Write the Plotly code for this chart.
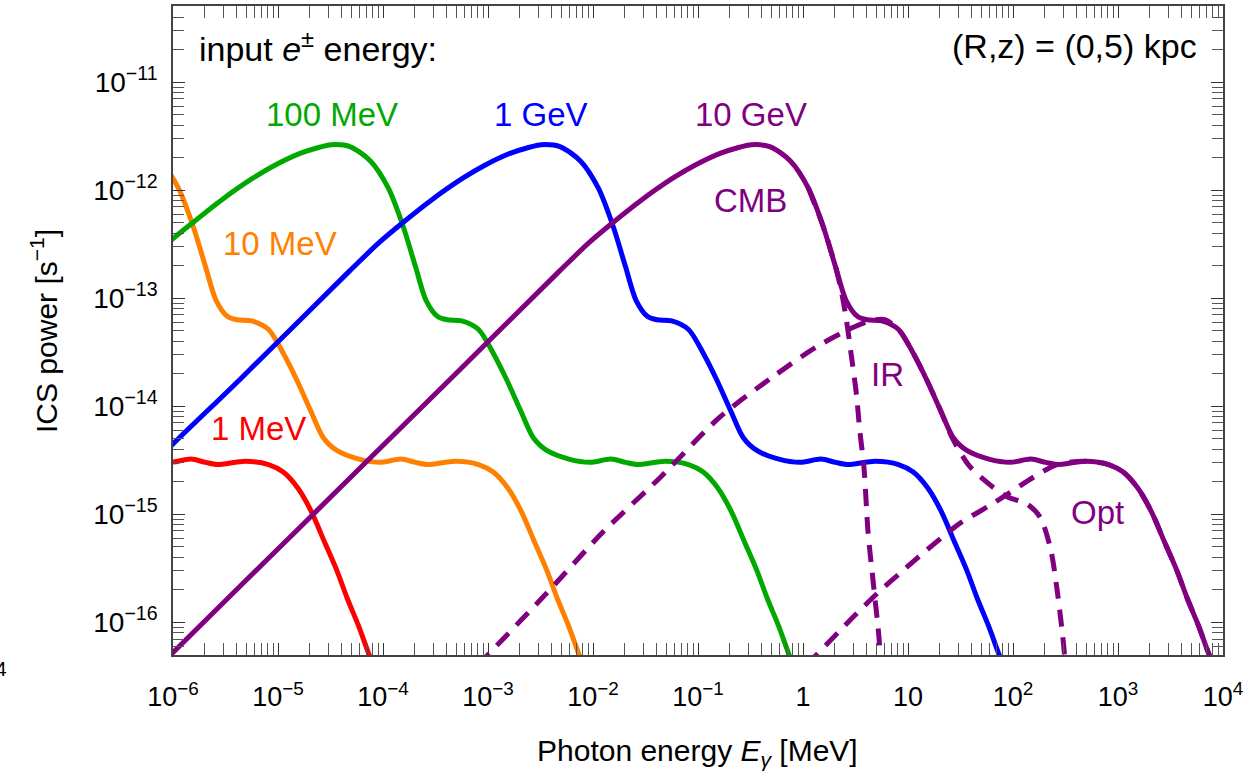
import numpy as np
import plotly.graph_objects as go

# ---- data: log10(E_gamma / MeV), log10(ICS power / s^-1) ----
e1MeV_logE = [-6.23, -6.03, -5.83, -5.69, -5.58, -5.31, -5.09, -4.95, -4.81, -4.68, -4.56,
              -4.44, -4.34, -4.23, -4.14, -4.04]
e1MeV_logP = [-14.49, -14.52, -14.49, -14.52, -14.54, -14.51, -14.54, -14.61, -14.76, -14.98,
              -15.25, -15.52, -15.78, -16.04, -16.28, -16.53]

e10MeV_logE = [-6.31, -6.12, -5.95, -5.81, -5.69, -5.59, -5.48, -5.39, -5.25, -5.09, -4.95,
               -4.82, -4.69, -4.57, -4.44, -4.23, -4.03, -3.83, -3.69, -3.58, -3.31, -3.09,
               -2.95, -2.81, -2.68, -2.56, -2.44, -2.34, -2.23, -2.14, -2.04]
e10MeV_logP = [-11.60, -11.73, -11.98, -12.33, -12.71, -13.02, -13.17, -13.20, -13.21, -13.29,
               -13.51, -13.76, -14.04, -14.29, -14.41, -14.49, -14.52, -14.49, -14.52, -14.54,
               -14.51, -14.54, -14.61, -14.76, -14.98, -15.25, -15.52, -15.78, -16.04, -16.28,
               -16.53]

e100MeV_logE = [-6.20, -6.00, -5.81, -5.55, -5.24, -5.03, -4.79, -4.63, -4.49, -4.31, -4.12,
                -3.95, -3.81, -3.69, -3.59, -3.48, -3.39, -3.25, -3.09, -2.95, -2.82, -2.69,
                -2.57, -2.44, -2.23, -2.03, -1.83, -1.69, -1.58, -1.31, -1.09, -0.95, -0.81,
                -0.68, -0.56, -0.44, -0.34, -0.23, -0.14, -0.04]
e100MeV_logP = [-12.64, -12.45, -12.30, -12.10, -11.89, -11.77, -11.66, -11.61, -11.58, -11.60,
                -11.73, -11.98, -12.33, -12.71, -13.02, -13.17, -13.20, -13.21, -13.29, -13.51,
                -13.76, -14.04, -14.29, -14.41, -14.49, -14.52, -14.49, -14.52, -14.54, -14.51,
                -14.54, -14.61, -14.76, -14.98, -15.25, -15.52, -15.78, -16.04, -16.28, -16.53]

e1GeV_logE = [-6.20, -6.00, -5.36, -4.32, -4.03, -3.81, -3.55, -3.24, -3.03, -2.79, -2.63,
              -2.49, -2.31, -2.12, -1.95, -1.81, -1.69, -1.59, -1.48, -1.39, -1.25, -1.09,
              -0.95, -0.82, -0.69, -0.57, -0.44, -0.23, -0.03, 0.17, 0.31, 0.42, 0.69, 0.91,
              1.05, 1.19, 1.32, 1.44, 1.56, 1.66, 1.77, 1.86, 1.96]
e1GeV_logP = [-14.55, -14.35, -13.75, -12.75, -12.48, -12.30, -12.10, -11.89, -11.77, -11.66,
              -11.61, -11.58, -11.60, -11.73, -11.98, -12.33, -12.71, -13.02, -13.17, -13.20,
              -13.21, -13.29, -13.51, -13.76, -14.04, -14.29, -14.41, -14.49, -14.52, -14.49,
              -14.52, -14.54, -14.51, -14.54, -14.61, -14.76, -14.98, -15.25, -15.52, -15.78,
              -16.04, -16.28, -16.53]

e10GeV_logE = [-6.20, -6.00, -4.79, -3.36, -2.32, -2.03, -1.81, -1.55, -1.24, -1.03, -0.79,
               -0.63, -0.49, -0.31, -0.12, 0.05, 0.19, 0.31, 0.41, 0.52, 0.61, 0.75, 0.91,
               1.05, 1.18, 1.31, 1.43, 1.56, 1.77, 1.97, 2.17, 2.31, 2.42, 2.69, 2.91, 3.05,
               3.19, 3.32, 3.44, 3.56, 3.66, 3.77, 3.86, 3.96]
e10GeV_logP = [-16.48, -16.28, -15.12, -13.75, -12.75, -12.48, -12.30, -12.10, -11.89, -11.77,
               -11.66, -11.61, -11.58, -11.60, -11.73, -11.98, -12.33, -12.71, -13.02, -13.17,
               -13.20, -13.21, -13.29, -13.51, -13.76, -14.04, -14.29, -14.41, -14.49, -14.52,
               -14.49, -14.52, -14.54, -14.51, -14.54, -14.61, -14.76, -14.98, -15.25, -15.52,
               -15.78, -16.04, -16.28, -16.53]

cmb_logE = [0.05, 0.19, 0.31, 0.36, 0.41, 0.46, 0.51, 0.54, 0.58, 0.62, 0.67, 0.72, 0.735,
            0.755]
cmb_logP = [-11.98, -12.33, -12.71, -12.91, -13.18, -13.53, -13.90, -14.22, -14.56, -15.17,
            -15.64, -16.10, -16.30, -16.63]

ir_logE = [-3.10, -3.00, -2.44, -1.91, -1.36, -0.79, -0.29, 0.13, 0.48, 0.64, 0.78, 0.91,
           1.05, 1.18, 1.31, 1.43, 1.59, 1.81, 1.95, 2.14, 2.26, 2.36, 2.42, 2.47, 2.49, 2.50]
ir_logP = [-16.40, -16.30, -15.73, -15.17, -14.66, -14.10, -13.73, -13.45, -13.27, -13.21,
           -13.20, -13.29, -13.51, -13.76, -14.04, -14.31, -14.56, -14.75, -14.84, -14.91,
           -15.03, -15.33, -15.70, -16.10, -16.30, -16.63]

opt_logE = [0.03, 0.13, 0.48, 0.71, 0.93, 1.18, 1.50, 1.76, 1.97, 2.19, 2.42, 2.69, 2.91,
            3.05, 3.19, 3.32, 3.44, 3.56, 3.66, 3.77, 3.86, 3.96]
opt_logP = [-16.40, -16.30, -15.95, -15.73, -15.54, -15.33, -15.08, -14.93, -14.80, -14.66,
            -14.54, -14.51, -14.54, -14.61, -14.76, -14.98, -15.25, -15.52, -15.78, -16.04,
            -16.28, -16.53]

x_tick_exp = [-6, -5, -4, -3, -2, -1, 0, 1, 2, 3, 4]
x_tick_text = ["10<sup>−6</sup>", "10<sup>−5</sup>", "10<sup>−4</sup>", "10<sup>−3</sup>",
               "10<sup>−2</sup>", "10<sup>−1</sup>", "1", "10", "10<sup>2</sup>",
               "10<sup>3</sup>", "10<sup>4</sup>"]
y_tick_exp = [-16, -15, -14, -13, -12, -11]
y_tick_text = ["10<sup>−16</sup>", "10<sup>−15</sup>", "10<sup>−14</sup>", "10<sup>−13</sup>",
               "10<sup>−12</sup>", "10<sup>−11</sup>"]

GREEN = "rgb(0,168,0)"
ORANGE = "rgb(255,128,0)"
BLUE = "rgb(0,0,255)"
RED = "rgb(255,0,0)"
PURPLE = "rgb(128,0,128)"
FONT = "Liberation Sans, Arial, sans-serif"

fig = go.Figure()


def add_curve(lx, ly, color, dash="solid"):
    fig.add_trace(go.Scatter(
        x=np.power(10.0, lx), y=np.power(10.0, ly), mode="lines",
        line=dict(color=color, width=5, dash=dash, shape="spline", smoothing=0.8),
        hoverinfo="skip", showlegend=False))


add_curve(e1MeV_logE, e1MeV_logP, RED)
add_curve(e10MeV_logE, e10MeV_logP, ORANGE)
add_curve(e100MeV_logE, e100MeV_logP, GREEN)
add_curve(e1GeV_logE, e1GeV_logP, BLUE)
add_curve(cmb_logE, cmb_logP, PURPLE, "17px,11px")
add_curve(ir_logE, ir_logP, PURPLE, "17px,11px")
add_curve(opt_logE, opt_logP, PURPLE, "17px,11px")
add_curve(e10GeV_logE, e10GeV_logP, PURPLE)

# layout geometry (pixels)
W, H = 1260, 771
L, R, T, B = 173, 37, 6, 116
PW, PH = W - L - R, H - T - B


def px(xp):
    return (xp - L) / PW


def py(yp):
    return 1 - (yp - T) / PH


labels = [
    ("input <i>e</i><sup>±</sup> energy:", 197, 46, "left", "black", 34),
    ("(R,z) = (0,5) kpc", 1199, 46, "right", "black", 34),
    ("100 MeV", 332, 115, "center", GREEN, 33),
    ("1 GeV", 541, 115, "center", BLUE, 33),
    ("10 GeV", 751, 115, "center", PURPLE, 33),
    ("10 MeV", 280, 244, "center", ORANGE, 33),
    ("1 MeV", 258, 428, "center", RED, 33),
    ("CMB", 750, 201, "center", PURPLE, 33),
    ("IR", 887, 375, "center", PURPLE, 33),
    ("Opt", 1097, 512, "center", PURPLE, 33),
]
for text, xp, yp, anchor, col, fs in labels:
    fig.add_annotation(text=text, x=px(xp), y=py(yp), xref="paper", yref="paper",
                       xanchor=anchor, yanchor="middle", showarrow=False,
                       font=dict(family=FONT, size=fs, color=col))

# axis titles
fig.add_annotation(text="Photon energy <i>E</i><sub><i>γ</i></sub> [MeV]", x=px(697), y=py(752),
                   xref="paper", yref="paper", xanchor="center", yanchor="middle",
                   showarrow=False, font=dict(family=FONT, size=30, color="black"))
fig.add_annotation(text="ICS power [s<sup>−1</sup>]", x=px(44), y=py(331), textangle=-90,
                   xref="paper", yref="paper", xanchor="center", yanchor="middle",
                   showarrow=False, font=dict(family=FONT, size=30, color="black"))
# clipped label fragment at the far left edge
fig.add_annotation(text="4", x=px(9), y=py(668), xref="paper", yref="paper",
                   xanchor="right", yanchor="middle", showarrow=False,
                   font=dict(family=FONT, size=21, color="black"))

x_minor = [m * 10.0 ** k for k in range(-6, 4) for m in range(2, 10)]
y_minor = [m * 10.0 ** k for k in range(-17, -10) for m in range(2, 10)]

axis_common = dict(type="log", showgrid=False, zeroline=False, showline=True,
                   linecolor="#444", linewidth=1.5, mirror="ticks", ticks="inside",
                   ticklen=12, tickwidth=1, tickcolor="#333")

fig.update_xaxes(range=[-6, 4], tickmode="array",
                 tickvals=[10.0 ** e for e in x_tick_exp], ticktext=x_tick_text,
                 ticklabelstandoff=17, tickfont=dict(family=FONT, size=27, color="black"),
                 minor=dict(tickmode="array", tickvals=x_minor, ticks="inside", ticklen=12,
                            tickwidth=1, tickcolor="#555", showgrid=False),
                 **axis_common)
fig.update_yaxes(range=[-16.303, -10.296], tickmode="array",
                 tickvals=[10.0 ** e for e in y_tick_exp], ticktext=y_tick_text,
                 ticklabelstandoff=8, tickfont=dict(family=FONT, size=28, color="black"),
                 minor=dict(tickmode="array", tickvals=y_minor, ticks="inside", ticklen=11,
                            tickwidth=1, tickcolor="#555", showgrid=False),
                 **axis_common)

fig.update_layout(width=W, height=H, margin=dict(l=L, r=R, t=T, b=B, autoexpand=False),
                  paper_bgcolor="white", plot_bgcolor="white", showlegend=False,
                  font=dict(family=FONT))

fig.write_html("out.html", config={"displayModeBar": False},
               post_script="document.body.style.margin='0';document.body.style.overflow='hidden';")
